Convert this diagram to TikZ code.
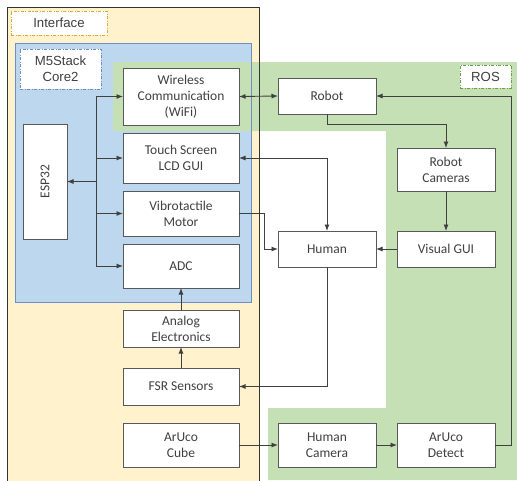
\documentclass[tikz,border=0pt]{standalone}
\usepackage{fontspec}
\setmainfont{Carlito}
\newfontfamily\tagfont{Liberation Sans}
\usepackage{tikz}
\usetikzlibrary{arrows.meta,positioning,calc}
\definecolor{ifYellow}{HTML}{FFF2CC}
\definecolor{ifBlue}{HTML}{BDD7EE}
\definecolor{ifGreen}{HTML}{C5E0B4}
\definecolor{ifText}{HTML}{404040}
\definecolor{ifGrey}{HTML}{595959}
\definecolor{ifBlueLine}{HTML}{6F8FC4}
\definecolor{ifAmber}{HTML}{D9A93C}
\definecolor{ifLeaf}{HTML}{6A9F48}

\begin{document}
\begin{tikzpicture}[x=1pt,y=-1pt,
    font=\fontsize{13.5}{16.2}\selectfont,
    block/.style={draw=ifGrey,fill=white,line width=0.9pt,text=ifText,
                  inner sep=0pt,outer sep=0pt,align=center,
                  minimum width=#1},
    block/.default=98pt,
    tag/.style={fill=white,line width=0.9pt,dash pattern=on 3pt off 1.5pt on 1pt off 1.5pt,
                text=ifText,inner sep=0pt,align=center,
                font=\tagfont\fontsize{13.2}{16.5}\selectfont},
    link/.style={draw=ifText,line width=0.9pt,-{Latex[length=6.5pt,width=5pt]}},
    dlink/.style={link,{Latex[length=6.5pt,width=5pt]}-{Latex[length=6.5pt,width=5pt]}}]
  \useasboundingbox (0,0) rectangle (517,480);

  % regions
  \fill[ifYellow] (7,7) rectangle (259,484);
  \fill[ifBlue] (15,43) rectangle (251,302);
  \fill[ifGreen] (113,62) -- (517,62) -- (517,480) -- (268,480) -- (268,408)
                 -- (386,408) -- (386,131) -- (113,131) -- cycle;
  \draw[ifBlueLine,line width=0.9pt] (15,43) rectangle (251,302);
  \draw[black!80,line width=0.9pt] (7,484) -- (7,7) -- (259,7) -- (259,484);

  \node[tag,draw=ifAmber,minimum width=96pt,minimum height=24pt] (ifTag) at (59,23) {Interface};
  \node[tag,draw=ifBlueLine,minimum width=81pt,minimum height=40pt] (m5Tag) at (60.5,69) {M5Stack\\Core2};
  \node[tag,draw=ifLeaf,minimum width=51pt,minimum height=23pt] (rosTag) at (485.5,76.5) {ROS};

  % interface blocks
  \node[block=116pt,minimum height=57pt] (wifi) at (181,96.5) {Wireless\\Communication\\(WiFi)};
  \node[block=116pt,minimum height=50pt] (touch) at (181,158) {Touch Screen\\LCD GUI};
  \node[block=116pt,minimum height=45pt] (vibro) at (181,213.5) {Vibrotactile\\Motor};
  \node[block=116pt,minimum height=44pt] (adc) at (181,266) {ADC};
  \node[block=44pt,minimum height=115pt] (esp) at (45,181.5) {};
  \node[rotate=90,text=ifText] (espText) at (esp.center) {ESP32};
  \node[block=116pt,minimum height=37pt] (analog) at (181,328.5) {Analog\\Electronics};
  \node[block=116pt,minimum height=37pt] (fsr) at (181,386.5) {FSR Sensors};
  \node[block=116pt,minimum height=44pt] (cube) at (181,445) {ArUco\\Cube};

  % ROS blocks
  \node[block,minimum height=36pt] (robot) at (327,96) {Robot};
  \node[block,minimum height=43pt] (cams) at (446,169.5) {Robot\\Cameras};
  \node[block,minimum height=36pt] (human) at (327,249) {Human};
  \node[block,minimum height=36pt] (vgui) at (446,249) {Visual GUI};
  \node[block,minimum height=44pt] (hcam) at (327,445) {Human\\Camera};
  \node[block,minimum height=44pt] (detect) at (446,445) {ArUco\\Detect};

  % ESP32 bus
  \coordinate (busTop) at (96,96.5);
  \coordinate (busBot) at (96,266);
  \draw[ifText,line width=0.9pt] (busTop) -- (busBot);
  \draw[link] (busTop) -- (wifi.west);
  \draw[link] (busTop |- touch) -- (touch.west);
  \draw[link] (busTop |- vibro) -- (vibro.west);
  \draw[link] (busBot) -- (adc.west);
  \draw[link] (busTop |- esp) -- (esp.east);

  \draw[dlink] (wifi.east) -- (robot.west);
  \draw[link] (robot.south) -- ++(0,10) -| (cams.north);
  \draw[link] (cams) -- (vgui);
  \draw[link] (vgui) -- (human);
  \draw[dlink] (touch.east) -| (human.north);
  \draw[link] (vibro.east) -- ++(25,0) |- (human.west);
  \draw[link] (human.south) |- (fsr.east);
  \draw[link] (fsr) -- (analog);
  \draw[link] (analog) -- (adc);
  \draw[link] (cube) -- (hcam);
  \draw[link] (hcam) -- (detect);
  \draw[link] (detect.east) -- ++(16,0) |- (robot.east);
\end{tikzpicture}
\end{document}
